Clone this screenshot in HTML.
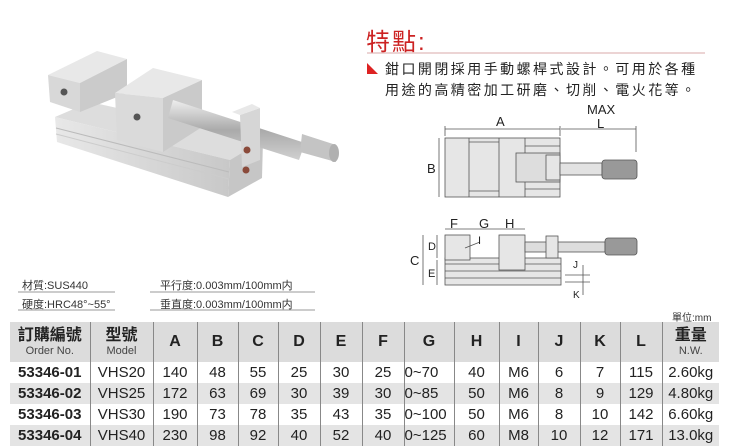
<!DOCTYPE html>
<html><head><meta charset="utf-8"><style>
body{margin:0;width:734px;height:445px;background:#fff;overflow:hidden;position:relative;font-family:"Liberation Sans","Noto Sans CJK TC",sans-serif}
.a{position:absolute;white-space:nowrap}
table{position:absolute;left:10px;top:322px;border-collapse:collapse;width:709px;table-layout:fixed}
td{border-left:1px solid #888;text-align:center;font-size:15px;color:#222;height:21px;padding:0;line-height:21px}
td:first-child{border-left:none;font-weight:bold}
tr.h td{background:#dcdcdc;height:40px;font-size:16px;font-weight:bold;line-height:18px}
tr.g td{background:#e4e4e4}
small{font-size:11px;font-weight:normal;color:#444;display:block;line-height:12px}
</style></head><body>
<svg class="a" style="left:0;top:0" width="734" height="445">
<defs>
<linearGradient id="s" x1="0" y1="0" x2="0" y2="1"><stop offset="0" stop-color="#eee"/><stop offset="0.5" stop-color="#aaa"/><stop offset="1" stop-color="#d0d0d0"/></linearGradient>
<linearGradient id="f" x1="0" y1="0" x2="1" y2="0"><stop offset="0" stop-color="#e8e8e8"/><stop offset="1" stop-color="#c8c8c8"/></linearGradient>
</defs>
<!-- photo vise -->
<polygon points="55,117 90,102 263,140 230,160" fill="#ddd"/>
<polygon points="55,117 230,160 228,197 57,142" fill="url(#f)"/>
<line x1="56" y1="128" x2="229" y2="172" stroke="#bbb"/>
<line x1="56" y1="134" x2="229" y2="179" stroke="#ccc"/>
<polygon points="230,160 263,140 262,178 228,197" fill="#c6c6c6"/>
<polygon points="48,75 97,51 127,59 80,83" fill="#e8e8e8"/>
<polygon points="48,75 80,83 80,112 50,102" fill="#d8d8d8"/>
<polygon points="80,83 127,59 127,93 80,112" fill="#cbcbcb"/>
<circle cx="64" cy="92" r="3.5" fill="#555"/>
<polygon points="115,93 153,68 202,80 163,98" fill="#e8e8e8"/>
<polygon points="115,93 163,98 163,152 117,140" fill="#dadada"/>
<polygon points="163,98 202,80 202,127 163,152" fill="#cacaca"/>
<circle cx="137" cy="117" r="3.5" fill="#555"/>
<polygon points="173,100 305,143 299,160 168,118" fill="url(#s)"/>
<polygon points="240,115 260,108 260,160 242,167" fill="#d6d6d6"/>
<polygon points="232,112 252,104 260,108 240,115" fill="#e8e8e8"/>
<circle cx="247" cy="150" r="3.5" fill="#8a4a3a"/><circle cx="246" cy="170" r="3.5" fill="#8a4a3a"/>
<polygon points="302,134 333,144 336,162 300,152" fill="#c4c4c4"/>
<ellipse cx="334" cy="153" rx="5" ry="9" fill="#b0b0b0"/>
<!-- title -->
<line x1="367" y1="53" x2="705" y2="53" stroke="#d9a9a9" stroke-width="1"/>
<polygon points="367,74 378,74 367,63" fill="#d22"/>
<!-- top view -->
<g stroke="#555" stroke-width="0.8" fill="#e6e6e6">
<line x1="445" y1="129" x2="560" y2="129"/><line x1="561" y1="129" x2="636" y2="129"/>
<line x1="445" y1="126" x2="445" y2="136"/><line x1="560" y1="126" x2="560" y2="136"/>
<line x1="636" y1="126" x2="636" y2="152"/>
<line x1="439" y1="138" x2="439" y2="197"/>
<rect x="445" y="138" width="115" height="59"/>
<line x1="469" y1="138" x2="469" y2="197"/><line x1="499" y1="138" x2="499" y2="197"/>
<line x1="469" y1="142" x2="499" y2="142"/><line x1="469" y1="191" x2="499" y2="191"/>
<line x1="525" y1="138" x2="525" y2="197"/>
<line x1="525" y1="146" x2="560" y2="146"/><line x1="525" y1="189" x2="560" y2="189"/>
<rect x="516" y="153" width="44" height="29" fill="#ddd"/>
<rect x="546" y="155" width="14" height="25" fill="#e6e6e6"/>
<rect x="560" y="163" width="42" height="12" fill="#e2e2e2"/>
<rect x="602" y="160" width="35" height="19" rx="3" fill="#999"/>
</g>
<!-- side view -->
<g stroke="#555" stroke-width="0.8" fill="#e6e6e6">
<line x1="445" y1="229" x2="525" y2="229"/>
<rect x="445" y="258" width="116" height="27"/>
<line x1="445" y1="264" x2="561" y2="264"/><line x1="445" y1="271" x2="561" y2="271"/><line x1="445" y1="278" x2="561" y2="278"/>
<rect x="445" y="235" width="25" height="25"/>
<rect x="499" y="235" width="26" height="35"/>
<rect x="525" y="242" width="80" height="10" fill="#ddd"/>
<rect x="546" y="236" width="12" height="22"/>
<rect x="605" y="238" width="32" height="17" rx="3" fill="#999"/>
<line x1="423" y1="235" x2="423" y2="285"/><line x1="437" y1="235" x2="437" y2="258"/><line x1="437" y1="260" x2="437" y2="285"/>
<line x1="565" y1="275" x2="590" y2="275"/><line x1="565" y1="282" x2="590" y2="282"/><line x1="583" y1="265" x2="583" y2="295"/>
<line x1="465" y1="248" x2="480" y2="242" fill="none"/>
</g>
<g font-family="Liberation Sans" font-size="13" fill="#222">
<text x="496" y="126">A</text><text x="587" y="114">MAX</text><text x="597" y="128">L</text>
<text x="427" y="173">B</text>
<text x="450" y="228">F</text><text x="479" y="228">G</text><text x="505" y="228">H</text>
<text x="478" y="244" font-size="11">I</text>
<text x="410" y="265">C</text><text x="428" y="250" font-size="11">D</text><text x="428" y="277" font-size="11">E</text>
<text x="573" y="268" font-size="10">J</text><text x="573" y="298" font-size="10">K</text>
</g>
<g stroke="#777" stroke-width="0.8">
<line x1="18" y1="292" x2="115" y2="292"/><line x1="18" y1="310" x2="115" y2="310"/>
<line x1="150" y1="292" x2="315" y2="292"/><line x1="150" y1="310" x2="315" y2="310"/>
</g>
</svg>
<div class="a" style="left:366px;top:22px;font-size:24px;color:#c22;letter-spacing:2px">特點:</div>
<div class="a" style="left:385px;top:59px;font-size:14px;color:#222;letter-spacing:2.45px;line-height:21px">鉗口開閉採用手動螺桿式設計。可用於各種<br>用途的高精密加工研磨、切削、電火花等。</div>
<div class="a" style="left:22px;top:277px;font-size:11px;color:#333">材質:SUS440</div>
<div class="a" style="left:22px;top:296px;font-size:11px;color:#333">硬度:HRC48°~55°</div>
<div class="a" style="left:160px;top:277px;font-size:11px;color:#333">平行度:0.003mm/100mm内</div>
<div class="a" style="left:160px;top:296px;font-size:11px;color:#333">垂直度:0.003mm/100mm内</div>
<div class="a" style="left:672px;top:309px;font-size:10px;color:#333">單位:mm</div>
<table>
<colgroup><col style="width:80px"><col style="width:63px"><col style="width:44px"><col style="width:41px"><col style="width:40px"><col style="width:42px"><col style="width:42px"><col style="width:42px"><col style="width:50px"><col style="width:45px"><col style="width:39px"><col style="width:42px"><col style="width:40px"><col style="width:42px"><col style="width:57px"></colgroup>
<tr class="h"><td>訂購編號<small>Order No.</small></td><td>型號<small>Model</small></td><td>A</td><td>B</td><td>C</td><td>D</td><td>E</td><td>F</td><td>G</td><td>H</td><td>I</td><td>J</td><td>K</td><td>L</td><td>重量<small>N.W.</small></td></tr>
<tr><td>53346-01</td><td>VHS20</td><td>140</td><td>48</td><td>55</td><td>25</td><td>30</td><td>25</td><td style="text-align:left">0~70</td><td>40</td><td>M6</td><td>6</td><td>7</td><td>115</td><td>2.60kg</td></tr>
<tr class="g"><td>53346-02</td><td>VHS25</td><td>172</td><td>63</td><td>69</td><td>30</td><td>39</td><td>30</td><td style="text-align:left">0~85</td><td>50</td><td>M6</td><td>8</td><td>9</td><td>129</td><td>4.80kg</td></tr>
<tr><td>53346-03</td><td>VHS30</td><td>190</td><td>73</td><td>78</td><td>35</td><td>43</td><td>35</td><td style="text-align:left">0~100</td><td>50</td><td>M6</td><td>8</td><td>10</td><td>142</td><td>6.60kg</td></tr>
<tr class="g"><td>53346-04</td><td>VHS40</td><td>230</td><td>98</td><td>92</td><td>40</td><td>52</td><td>40</td><td style="text-align:left">0~125</td><td>60</td><td>M8</td><td>10</td><td>12</td><td>171</td><td>13.0kg</td></tr>
</table>
</body></html>
